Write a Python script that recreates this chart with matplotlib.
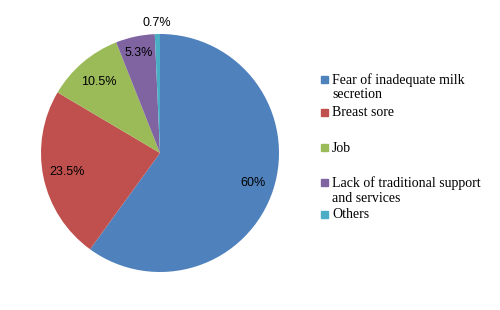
import numpy as np
import matplotlib
matplotlib.use('Agg')
import matplotlib.pyplot as plt
from matplotlib.patches import Rectangle

categories = ['Fear of inadequate milk\nsecretion', 'Breast sore', 'Job',
              'Lack of traditional support\nand services', 'Others']
values = [60, 23.5, 10.5, 5.3, 0.7]
value_labels = ['60%', '23.5%', '10.5%', '5.3%', '0.7%']
colors = ['#4F81BD', '#C0504D', '#9BBB59', '#8064A2', '#4BACC6']

# layout only
label_dist = [0.82, 0.80, 0.79, 0.86, 1.09]
legend_y = [80, 113, 148, 183, 215]   # pixel row of first legend line (from top)
line_step = 15

W, H = 500, 310
fig = plt.figure(figsize=(W / 100, H / 100), dpi=100)
ax = fig.add_axes([41 / W, (H - 272) / H, 238 / W, 238 / H])

wedges, _ = ax.pie(values, colors=colors, startangle=90, counterclock=False,
                   wedgeprops=dict(linewidth=0))
ax.set_xlim(-1, 1)
ax.set_ylim(-1, 1)
ax.set_aspect('equal')

for w, txt, d in zip(wedges, value_labels, label_dist):
    ang = np.deg2rad((w.theta1 + w.theta2) / 2)
    ax.text(d * np.cos(ang), d * np.sin(ang), txt, ha='center', va='center',
            fontsize=9, family='Liberation Sans', color='black')

# legend, drawn by hand to get Excel's uneven spacing
for lab, col, y in zip(categories, colors, legend_y):
    fig.patches.append(Rectangle((321 / W, 1 - (y + 3) / H), 7 / W, 7 / H,
                                 transform=fig.transFigure, color=col))
    for i, line in enumerate(lab.split('\n')):
        fig.text(332 / W, 1 - (y + i * line_step) / H, line, ha='left',
                 va='center', fontsize=10, family='Liberation Serif')

fig.savefig('out.png', dpi=100)
